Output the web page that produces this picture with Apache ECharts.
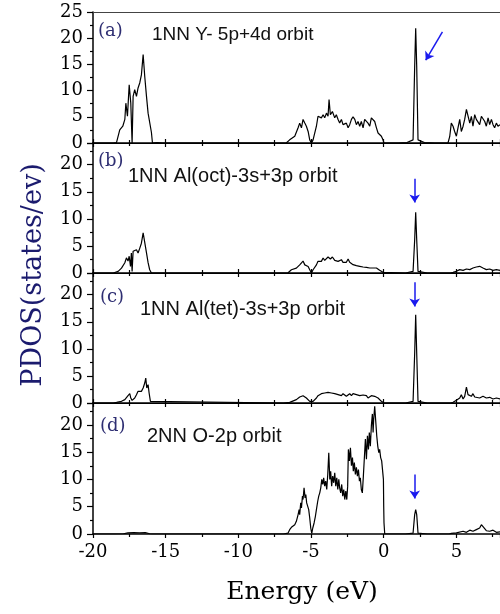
<!DOCTYPE html>
<html>
<head>
<meta charset="utf-8">
<script src="https://cdn.jsdelivr.net/npm/echarts@6/dist/echarts.min.js"></script>
<style>
  html, body { margin: 0; padding: 0; background: #fff; }
  #chart { width: 500px; height: 614px; }
</style>
</head>
<body>
<div id="chart"></div>
<script>
// PDOS panels, [energy (eV), states/eV]
const pdosY = [
  [-20,0],[-18.6,0],[-18.38,0.1],[-18.16,2.5],[-17.95,3.2],[-17.81,4.5],[-17.74,7.6],[-17.63,5.1],[-17.51,11.1],[-17.40,7.6],[-17.31,0],[-17.24,8.9],[-17.13,10.2],[-17.01,8.9],[-16.90,10.5],[-16.78,11.5],[-16.67,13],[-16.55,16.9],[-16.44,12.7],[-16.32,8.9],[-16.21,5.7],[-16.10,5.4],[-15.98,2],[-15.91,0],[-15.6,0.1],[-15.2,0],
  [-6.9,0],[-6.69,0.05],[-6.47,0.6],[-6.12,1.3],[-5.89,2.9],[-5.78,3.8],[-5.66,2.9],[-5.55,4.5],[-5.43,3.8],[-5.32,3.2],[-5.20,2.2],[-5.09,0.6],[-4.97,0],[-4.86,0.6],[-4.63,3.2],[-4.52,5.1],[-4.40,5.4],[-4.29,4.8],[-4.17,5.4],[-4.06,4.8],[-3.94,5.7],[-3.83,5.1],[-3.76,8.3],[-3.67,5.4],[-3.53,6.0],[-3.37,4.8],[-3.26,5.4],[-3.14,4.5],[-3.03,3.8],[-2.91,4.5],[-2.80,3.5],[-2.68,3.2],[-2.57,3.8],[-2.45,2.9],[-2.34,3.5],[-2.22,4.5],[-2.11,5.0],[-1.99,4.5],[-1.88,3.5],[-1.77,4.1],[-1.65,3.2],[-1.54,4.1],[-1.42,2.9],[-1.31,4.5],[-1.19,4.8],[-1.08,3.8],[-0.96,3.2],[-0.85,4.8],[-0.73,5.1],[-0.62,4.1],[-0.50,2.9],[-0.39,1.9],[-0.28,1.9],[-0.16,1.3],[-0.05,0.6],[0.02,0],
  [1.0,0],[1.6,0.1],[2.02,0.6],[2.13,14.6],[2.20,21.9],[2.27,14.6],[2.36,0.6],[2.8,0.1],[3.5,0],[4.42,0],
  [4.54,1.2],[4.65,3.8],[4.77,3.2],[4.88,2.2],[5.00,1.3],[5.11,2.9],[5.23,4.5],[5.34,2.2],[5.46,3.2],[5.57,4.5],[5.69,6.4],[5.80,6.4],[5.92,3.8],[6.03,5.1],[6.14,3.2],[6.26,5.4],[6.37,4.5],[6.49,4.8],[6.60,3.5],[6.72,5.1],[6.83,5.4],[6.95,4.1],[7.06,3.2],[7.18,4.8],[7.29,3.5],[7.41,4.5],[7.52,3.5],[7.63,2.9],[7.75,3.8],[7.86,3.2],[8,3.5]
];

const pdosAlOct = [
  [-20,0],[-18.6,0],[-18.27,0.3],[-18.04,0.9],[-17.81,1.9],[-17.70,2.8],[-17.59,2.2],[-17.51,3.1],[-17.42,1.2],[-17.36,3.7],[-17.31,0.3],[-17.24,4.0],[-17.13,3.7],[-17.01,4.3],[-16.90,3.7],[-16.78,4.6],[-16.67,5.5],[-16.55,7.4],[-16.44,7.1],[-16.32,3.7],[-16.21,1.9],[-16.10,0.6],[-15.98,0],
  [-6.9,0],[-6.58,0.05],[-6.35,0.6],[-6.01,0.9],[-5.78,1.5],[-5.66,1.2],[-5.55,2.2],[-5.43,1.5],[-5.32,1.85],[-5.20,1.2],[-5.09,0.6],[-4.97,0],[-4.86,0.6],[-4.63,1.5],[-4.52,2.15],[-4.40,2.46],[-4.29,2.15],[-4.17,2.77],[-4.06,2.34],[-3.94,2.58],[-3.83,2.95],[-3.76,3.2],[-3.67,2.58],[-3.53,2.95],[-3.37,2.34],[-3.26,2.58],[-3.14,2.15],[-3.03,1.85],[-2.91,2.46],[-2.80,1.97],[-2.68,1.72],[-2.57,1.97],[-2.45,2.58],[-2.34,1.97],[-2.22,1.72],[-2.11,1.54],[-1.99,1.85],[-1.88,1.35],[-1.77,1.54],[-1.65,1.23],[-1.54,1.35],[-1.42,1.11],[-1.31,1.23],[-1.19,1.05],[-1.08,1.11],[-0.96,0.92],[-0.85,1.11],[-0.73,0.92],[-0.62,0.74],[-0.50,0.92],[-0.39,0.74],[-0.28,0.49],[-0.16,0.31],[-0.05,0.12],[0.02,0],
  [1.5,0],[2.02,0.3],[2.13,6.15],[2.20,11.2],[2.27,6.15],[2.36,0.3],[3,0],
  [4.6,0],[4.77,0.12],[5.00,0.31],[5.23,0.62],[5.46,0.49],[5.69,0.74],[5.92,0.62],[6.14,0.92],[6.37,1.11],[6.49,1.35],[6.60,1.23],[6.83,0.92],[7.06,0.62],[7.29,0.74],[7.52,0.49],[7.75,0.62],[8,0.49]
];

const pdosAlTet = [
  [-20,0],[-18.6,0],[-18.38,0.12],[-18.04,0.31],[-17.81,0.62],[-17.70,0.92],[-17.59,1.35],[-17.47,1.72],[-17.40,0.92],[-17.31,0.49],[-17.24,0.74],[-17.13,0.92],[-17.01,1.54],[-16.90,2.15],[-16.78,2.46],[-16.67,2.15],[-16.55,2.77],[-16.44,3.69],[-16.37,4.6],[-16.30,2.77],[-16.21,3.38],[-16.14,1.85],[-16.05,0.31],[-15.98,0],
  [-6.9,0],[-6.47,0.12],[-6.01,0.62],[-5.78,1.11],[-5.66,0.92],[-5.55,1.35],[-5.43,1.11],[-5.32,0.92],[-5.20,0.62],[-5.09,0.31],[-4.97,0.1],[-4.86,0.31],[-4.63,0.92],[-4.52,1.35],[-4.40,1.54],[-4.29,1.72],[-4.17,1.54],[-4.06,1.85],[-3.94,1.54],[-3.83,1.97],[-3.71,2.15],[-3.60,1.85],[-3.48,1.97],[-3.37,1.72],[-3.26,1.97],[-3.14,1.54],[-3.03,1.72],[-2.91,1.35],[-2.80,1.72],[-2.68,1.48],[-2.57,1.23],[-2.45,1.54],[-2.34,1.72],[-2.22,1.35],[-2.11,1.72],[-1.99,1.97],[-1.88,1.54],[-1.77,1.23],[-1.65,1.35],[-1.54,1.11],[-1.42,1.48],[-1.31,1.23],[-1.19,1.35],[-1.08,0.92],[-0.96,1.23],[-0.85,1.35],[-0.73,1.11],[-0.62,1.23],[-0.50,0.92],[-0.39,0.92],[-0.28,0.62],[-0.16,0.31],[-0.05,0.12],[0.02,0],
  [1.5,0],[2.02,0.3],[2.13,9.2],[2.20,16.3],[2.27,9.2],[2.36,0.3],[3,0],
  [4.6,0],[4.77,0.12],[5.00,0.49],[5.23,0.92],[5.34,1.54],[5.46,0.74],[5.57,1.23],[5.69,2.95],[5.80,1.54],[5.92,1.85],[6.03,1.23],[6.14,1.72],[6.26,1.11],[6.37,1.35],[6.60,0.92],[6.83,1.23],[7.06,0.92],[7.29,1.05],[7.52,0.74],[7.75,0.92],[8,0.74]
];

const pdosO = [
  [-20,0],[-18.6,0],[-17.9,0.05],[-17.6,0.2],[-17.2,0.25],[-16.8,0.2],[-16.4,0.25],[-16.1,0.05],[-15.9,0],
  [-6.9,0],[-6.58,0.17],[-6.47,0.79],[-6.35,1.22],[-6.24,1.4],[-6.12,1.71],[-6.01,2.32],[-5.89,3.55],[-5.82,4.47],[-5.78,3.55],[-5.71,5.7],[-5.66,4.78],[-5.59,6.93],[-5.55,6.31],[-5.48,8.46],[-5.41,6.62],[-5.36,7.23],[-5.30,5.7],[-5.23,6.0],[-5.16,4.47],[-5.09,2.94],[-5.02,1.1],[-4.95,0.1],[-4.88,1.1],[-4.79,2.02],[-4.70,3.25],[-4.63,4.47],[-4.54,6.0],[-4.47,6.93],[-4.40,7.54],[-4.33,8.46],[-4.26,10.0],[-4.19,9.08],[-4.13,10.3],[-4.06,8.77],[-3.99,9.69],[-3.92,8.15],[-3.85,10.9],[-3.78,14.9],[-3.71,10.0],[-3.65,11.5],[-3.58,8.77],[-3.51,10.6],[-3.44,9.38],[-3.37,11.2],[-3.30,8.77],[-3.23,10.3],[-3.16,8.15],[-3.09,10.0],[-3.03,8.46],[-2.96,7.54],[-2.89,9.08],[-2.82,6.93],[-2.75,8.15],[-2.68,6.31],[-2.61,7.85],[-2.54,6.31],[-2.48,8.77],[-2.43,15.5],[-2.36,13.4],[-2.29,15.8],[-2.22,12.5],[-2.15,14.0],[-2.09,11.5],[-2.02,13.1],[-1.95,10.9],[-1.88,12.2],[-1.81,10.6],[-1.74,11.8],[-1.67,9.69],[-1.61,10.3],[-1.54,8.15],[-1.47,7.54],[-1.40,10.6],[-1.33,14.0],[-1.26,17.4],[-1.19,13.7],[-1.12,18.0],[-1.05,15.5],[-0.99,18.6],[-0.92,16.1],[-0.85,19.8],[-0.78,22.0],[-0.73,18.6],[-0.69,21.0],[-0.62,23.4],[-0.55,20.7],[-0.48,18.0],[-0.41,16.1],[-0.34,14.9],[-0.28,15.5],[-0.21,14.0],[-0.14,13.4],[-0.07,13.1],[-0.02,10.0],[0.0,5.0],[0.02,2.0],[0.07,0],
  [1.5,0],[2.02,0.17],[2.13,3.55],[2.20,4.47],[2.27,3.55],[2.36,0.17],[3,0],
  [4.5,0],[4.65,0.1],[5.00,0.2],[5.46,0.5],[5.69,0.3],[5.92,0.7],[6.14,0.5],[6.37,0.8],[6.60,1.1],[6.72,1.71],[6.83,1.4],[7.06,0.6],[7.29,0.5],[7.52,0.7],[7.75,0.3],[8,0.4]
];

const panelSeries = [pdosY, pdosAlOct, pdosAlTet, pdosO];
const panelTags = ['(a)', '(b)', '(c)', '(d)'];
const panelNames = ['1NN Y- 5p+4d orbit', '1NN Al(oct)-3s+3p orbit', '1NN Al(tet)-3s+3p orbit', '2NN O-2p orbit'];
const yMax = [25, 24, 24, 24];
// blue arrows, [from, to] in data coords
const arrows = [
  [[4.04, 21.2], [2.89, 15.8]],
  [[2.13, 17.4], [2.13, 13.0]],
  [[2.13, 22.3], [2.13, 17.8]],
  [[2.13, 10.9], [2.13, 6.5]]
];

const chart = echarts.init(document.getElementById('chart'));

const gridTops = [12, 143, 273, 403];
const gridHeights = [131, 130, 130, 131];
const serif = 'DejaVu Serif';

const grids = gridTops.map((t, i) => ({ left: 93, right: 0, top: t, height: gridHeights[i] }));

const xAxes = [];
const yAxes = [];
const series = [];
const graphics = [];

panelSeries.forEach((data, i) => {
  const last = i === 3;
  xAxes.push({
    type: 'value', gridIndex: i, position: 'bottom', min: -20, max: 8, interval: 5,
    axisLine: { onZero: false, lineStyle: { color: '#000', width: 1.5 } },
    axisTick: { inside: !last, length: 4, lineStyle: { color: '#000', width: 1.2 } },
    minorTick: { show: true, splitNumber: 2, length: 3, lineStyle: { color: '#000', width: 1.2 } },
    axisLabel: { show: last, showMaxLabel: false, fontFamily: serif, fontSize: 18, color: '#000', margin: 9 },
    splitLine: { show: false }
  });
  xAxes.push({
    type: 'value', gridIndex: i, position: 'top', min: -20, max: 8, interval: 5,
    axisLine: { onZero: false, lineStyle: { color: i === 0 ? '#444' : '#000', width: 1.2 } },
    axisTick: { show: i > 0, inside: true, length: 4, lineStyle: { color: '#000', width: 1.2 } },
    minorTick: { show: i > 0, splitNumber: 2, length: 3, lineStyle: { color: '#000', width: 1.2 } },
    axisLabel: { show: false },
    splitLine: { show: false }
  });
  yAxes.push({
    type: 'value', gridIndex: i, position: 'left', min: 0, max: yMax[i], interval: 5,
    axisLine: { onZero: false, lineStyle: { color: '#000', width: 1.5 } },
    axisTick: { inside: false, length: 6, lineStyle: { color: '#000', width: 1.2 } },
    minorTick: { show: true, splitNumber: 2, length: 3, lineStyle: { color: '#000', width: 1.2 } },
    axisLabel: { fontFamily: serif, fontSize: 18, color: '#000', margin: 10, showMaxLabel: i === 0 },
    splitLine: { show: false }
  });
  series.push({
    type: 'line', xAxisIndex: i * 2, yAxisIndex: i, data: data,
    showSymbol: false, symbol: 'none',
    lineStyle: { color: '#000', width: 1.2 },
    markLine: {
      silent: true, animation: false,
      symbol: ['none', 'arrow'], symbolSize: 8,
      lineStyle: { color: '#1a1aee', width: 1.5, type: 'solid' },
      itemStyle: { color: '#1a1aee' },
      label: { show: false },
      data: [[
        { coord: arrows[i][0], symbol: 'none' },
        { coord: arrows[i][1], symbol: 'arrow', symbolSize: 8 }
      ]]
    }
  });
});

const tagPos = [[98, 31], [98, 161], [100, 297], [100, 426]];
const namePos = [[152, 35], [128, 176], [140, 309], [147, 436]];
panelTags.forEach((tag, i) => {
  graphics.push({
    type: 'text', x: tagPos[i][0], y: tagPos[i][1],
    style: { text: tag, font: '18px "DejaVu Serif"', fill: '#2e2e72', textVerticalAlign: 'middle' }
  });
  graphics.push({
    type: 'text', x: namePos[i][0], y: namePos[i][1],
    style: { text: panelNames[i], font: (i === 0 ? '19px' : '20px') + ' "Liberation Sans"', fill: '#111', textVerticalAlign: 'middle' }
  });
});
graphics.push({
  type: 'text', x: 34, y: 275, rotation: Math.PI / 2,
  style: { text: 'PDOS(states/ev)', font: '27px "DejaVu Serif"', fill: '#1b1b6e', textAlign: 'center', textVerticalAlign: 'middle' }
});
graphics.push({
  type: 'text', x: 302, y: 592,
  style: { text: 'Energy (eV)', font: '25px "DejaVu Serif"', fill: '#000', textAlign: 'center', textVerticalAlign: 'middle' }
});

chart.setOption({
  animation: false,
  backgroundColor: '#fff',
  grid: grids,
  xAxis: xAxes,
  yAxis: yAxes,
  series: series,
  graphic: graphics
});
</script>
</body>
</html>
